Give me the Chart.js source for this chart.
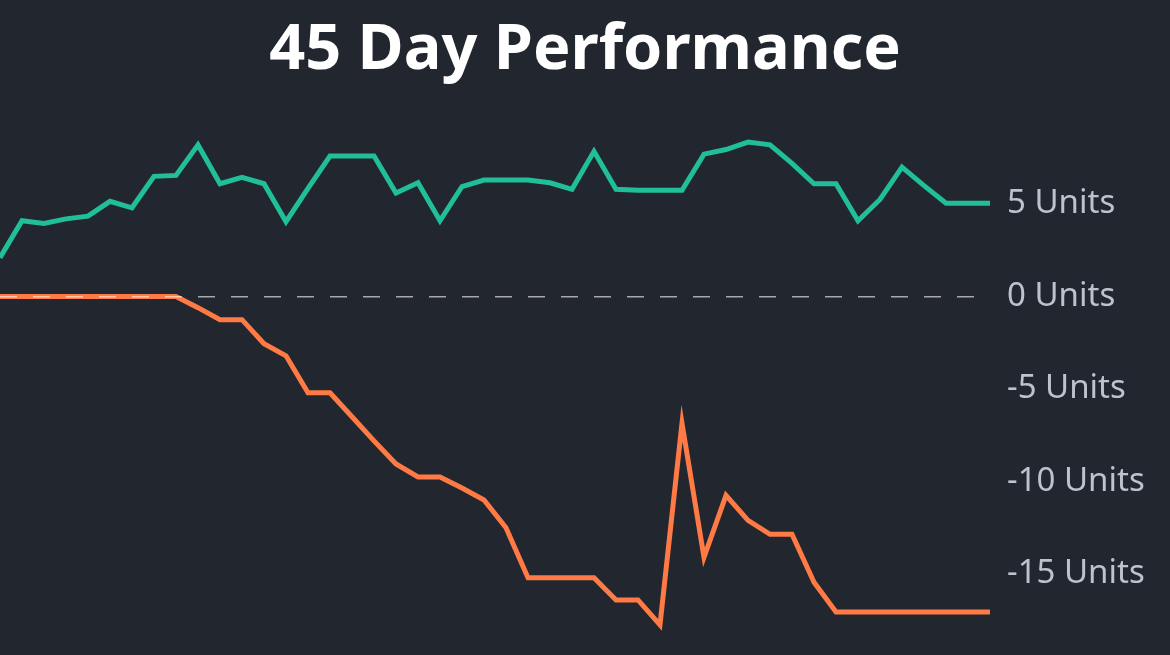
<!DOCTYPE html>
<html>
<head>
<meta charset="utf-8">
<title>45 Day Performance</title>
<script src="https://cdn.jsdelivr.net/npm/chart.js@4.4.1/dist/chart.umd.min.js"></script>
<style>
    html, body { margin: 0; padding: 0; background: #22262f; }
    #wrap { position: relative; width: 1170px; height: 655px; }
</style>
</head>
<body>
<div id="wrap"><canvas id="perfChart" width="1170" height="655"></canvas></div>
<script>
const days = Array.from({ length: 46 }, (_, i) => 'Day ' + i);

const upSeries = [
    2.1, 4.1, 3.95, 4.2, 4.35, 5.15, 4.8, 6.5, 6.55, 8.2,
    6.1, 6.45, 6.1, 4.05, 5.85, 7.6, 7.6, 7.6, 5.6, 6.15,
    4.1, 5.95, 6.3, 6.3, 6.3, 6.15, 5.8, 7.85, 5.8, 5.75,
    5.75, 5.75, 7.7, 7.95, 8.35, 8.2, 7.2, 6.1, 6.1, 4.1,
    5.25, 7.0, 6.0, 5.05, 5.05, 5.05
];

const downSeries = [
    0, 0, 0, 0, 0, 0, 0, 0, 0, -0.6,
    -1.25, -1.25, -2.55, -3.2, -5.2, -5.2, -6.5, -7.8, -9.05, -9.75,
    -9.75, -10.35, -11.0, -12.5, -15.2, -15.2, -15.2, -15.2, -16.4, -16.4,
    -17.75, -6.85, -14.1, -10.75, -12.1, -12.85, -12.85, -15.45, -17.05, -17.05,
    -17.05, -17.05, -17.05, -17.05, -17.05, -17.05
];

const tickValues = [5, 0, -5, -10, -15];

const ctx = document.getElementById('perfChart').getContext('2d');
const perfChart = new Chart(ctx, {
    type: 'line',
    data: {
        labels: days,
        datasets: [
            {
                label: 'Up',
                data: upSeries,
                borderColor: '#20bf99',
                borderWidth: 5,
                pointRadius: 0,
                tension: 0
            },
            {
                label: 'Down',
                data: downSeries,
                borderColor: '#ff7a45',
                borderWidth: 5,
                pointRadius: 0,
                tension: 0
            }
        ]
    },
    options: {
        responsive: false,
        animation: false,
        layout: { padding: { top: 0, bottom: 7, left: 0, right: 0 } },
        plugins: {
            legend: { display: false },
            tooltip: { enabled: false },
            title: {
                display: true,
                text: '45 Day Performance',
                color: '#ffffff',
                font: { family: 'Noto Sans', size: 63, weight: 'bold', lineHeight: 1.2 },
                padding: { top: 13, bottom: 23 }
            }
        },
        scales: {
            x: {
                display: false,
                offset: false
            },
            y: {
                position: 'right',
                min: -19,
                max: 10,
                afterBuildTicks: (scale) => {
                    scale.ticks = tickValues.map(v => ({ value: v }));
                },
                afterFit: (scale) => {
                    scale.width = 180;
                    scale.paddingTop = 0;
                    scale.paddingBottom = 0;
                },
                grid: {
                    z: 1,
                    drawTicks: false,
                    lineWidth: 1.5,
                    color: (c) => c.tick && c.tick.value === 0 ? 'rgba(255,255,255,0.6)' : 'transparent'
                },
                border: { display: false, dash: [17, 16] },
                ticks: {
                    color: '#bcc3cf',
                    padding: 17,
                    font: { family: 'Noto Sans', size: 33 },
                    callback: (v) => v + ' Units'
                }
            }
        }
    }
});
</script>
</body>
</html>
